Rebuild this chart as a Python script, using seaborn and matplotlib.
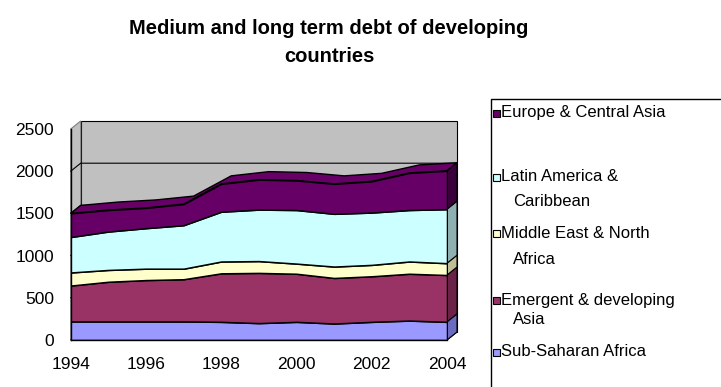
import pandas as pd
import seaborn as sns
import matplotlib.pyplot as plt
from matplotlib.patches import Polygon, Rectangle

# Data (values per region, stacked bottom to top)
years = list(range(1994, 2005))
sub_saharan = [220, 220, 220, 220, 215, 200, 215, 195, 215, 230, 215]
emergent_asia = [425, 470, 490, 500, 575, 595, 570, 540, 540, 555, 555]
middle_east = [155, 140, 135, 125, 140, 140, 120, 135, 135, 145, 140]
latin_america = [420, 455, 480, 515, 590, 610, 635, 625, 620, 610, 640]
europe_asia = [280, 255, 240, 250, 330, 355, 350, 355, 370, 440, 455]

series_names = ["Sub-Saharan Africa", "Emergent & developing Asia",
                "Middle East & North Africa", "Latin America & Caribbean",
                "Europe & Central Asia"]
colors = ["#9999FF", "#993366", "#FFFFCC", "#CCFFFF", "#660066"]
side_colors = ["#6B6BC0", "#6A2247", "#BFBF96", "#8FB0B0", "#3A003A"]

df = pd.DataFrame({"year": years,
                   series_names[0]: sub_saharan,
                   series_names[1]: emergent_asia,
                   series_names[2]: middle_east,
                   series_names[3]: latin_america,
                   series_names[4]: europe_asia}).set_index("year")
cum = df.cumsum(axis=1)

sns.set_style("white")
plt.rcParams["font.family"] = ["Liberation Sans", "DejaVu Sans"]
plt.rcParams["text.color"] = "black"

W, H = 721, 387
fig = plt.figure(figsize=(W / 100, H / 100), dpi=100)
x0, x1, y0, y1 = 70.7, 447, 340, 129
ax = fig.add_axes([x0 / W, (H - y0) / H, (x1 - x0) / W, (y0 - y1) / H])
ax.set_xlim(1994, 2004)
ax.set_ylim(0, 2500)

# depth offset of the 3D look, in data units
dx = 10 / (x1 - x0) * 10
dy = 8 / (y0 - y1) * 2500
xa, xb = years[0], years[-1]

# walls and floor
wall = "#C0C0C0"
ax.add_patch(Rectangle((xa + dx, dy), xb - xa, 2500, fc=wall, ec="black", lw=0.8,
                       clip_on=False, zorder=0))
ax.add_patch(Polygon([(xa, 0), (xa + dx, dy), (xa + dx, 2500 + dy), (xa, 2500)],
                     fc=wall, ec="#7F7F7F", lw=0.8, clip_on=False, zorder=0))
ax.add_patch(Polygon([(xa, 0), (xb, 0), (xb + dx, dy), (xa + dx, dy)],
                     fc=wall, ec="black", lw=0.8, clip_on=False, zorder=0))
for g in [500, 1000, 1500, 2000]:
    ax.plot([xa, xa + dx, xb + dx], [g, g + dy, g + dy], color="black", lw=0.8,
            clip_on=False, zorder=0.5)

# top surface of the top series
top = cum[series_names[-1]].values
pts = list(zip(years, top)) + [(x + dx, v + dy) for x, v in zip(years[::-1], top[::-1])]
ax.add_patch(Polygon(pts, fc=colors[-1], ec="black", lw=1, clip_on=False, zorder=2))

# right end caps
lower = 0
for name, sc in zip(series_names, side_colors):
    upper = cum.loc[xb, name]
    ax.add_patch(Polygon([(xb, lower), (xb, upper), (xb + dx, upper + dy), (xb + dx, lower + dy)],
                         fc=sc, ec="black", lw=0.8, clip_on=False, zorder=2))
    lower = upper

# front faces
ax.stackplot(df.index, [df[n] for n in series_names], colors=colors,
             edgecolor="black", linewidth=1.1, zorder=3)

for s in ["top", "right"]:
    ax.spines[s].set_visible(False)
for s in ["left", "bottom"]:
    ax.spines[s].set_color("black")
    ax.spines[s].set_linewidth(1)
    ax.spines[s].set_zorder(4)

ax.set_yticks(range(0, 2501, 500))
ax.set_xticks(years)
ax.set_xticklabels([str(y) if y % 2 == 0 else "" for y in years])
ax.tick_params(axis="both", direction="out", length=4, width=1, color="black",
               labelsize=12.5, labelcolor="black")
ax.tick_params(axis="y", pad=8)
ax.tick_params(axis="x", pad=8)
ax.grid(False)
ax.set_facecolor("none")

# title
fig.text(329 / W, 1 - 28 / H, "Medium and long term debt of developing",
         ha="center", va="center", fontsize=14.5, fontweight="bold", color="black")
fig.text(329 / W, 1 - 57 / H, "countries", ha="center", va="center",
         fontsize=14.5, fontweight="bold", color="black")

# legend
fig.patches.append(Rectangle((491 / W, 1 - 400 / H), (740 - 491) / W, (400 - 99) / H,
                             transform=fig.transFigure, fill=False, ec="black", lw=1))
legend_rows = [
    (series_names[4], ["Europe & Central Asia"], [113]),
    (series_names[3], ["Latin America &", "Caribbean"], [177, 201]),
    (series_names[2], ["Middle East & North", "Africa"], [233, 259]),
    (series_names[1], ["Emergent & developing", "Asia"], [300, 319]),
    (series_names[0], ["Sub-Saharan Africa"], [352]),
]
for name, lines, ys in legend_rows:
    c = colors[series_names.index(name)]
    fig.patches.append(Rectangle((492.5 / W, 1 - (ys[0] + 3.5) / H), 7 / W, 7 / H,
                                 transform=fig.transFigure, fc=c, ec="black", lw=0.8))
    for i, (t, yy) in enumerate(zip(lines, ys)):
        fig.text((501 if i == 0 else 513) / W, 1 - yy / H, t, ha="left", va="center",
                 fontsize=12, color="black")

fig.savefig("out.png", dpi=100)
